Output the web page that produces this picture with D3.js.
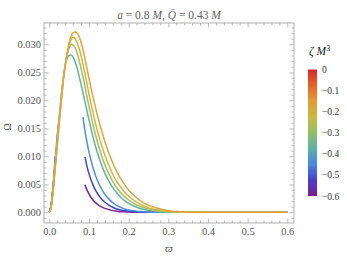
<!DOCTYPE html>
<html lang="en">
<head>
<meta charset="UTF-8">
<title>Omega vs varpi</title>
<script src="https://d3js.org/d3.v7.min.js"></script>
<style>
  body { margin: 0; background: #fff; }
  svg { display: block; font-family: "Liberation Serif", "DejaVu Serif", serif; }
</style>
</head>
<body>
<svg width="347" height="256"></svg>
<script>
// varpi grid shared by all curves (null = no real solution there)
const varpi = [0, .005, .01, .015, .02, .025, .03, .035, .04, .045, .05, .055, .06, .065, .07, .075, .08, .085, .09, .095,
  .1, .11, .12, .13, .14, .15, .16, .17, .18, .19, .2, .22, .24, .26, .28, .3, .33, .36, .4, .5, .6];

const omegaOrange = [0, .0010, .0040, .0078, .0118, .0158, .0196, .0231, .0261, .0285, .0303, .0315, .0321, .0322, .0320, .0314, .0304, .0290, .0274, .0257,
  .0239, .0207, .0177, .0150, .0127, .0106, .0088, .0073, .0060, .0049, .0040, .0026, .0016, .0010, .0006, .0003, .0001, .00005, 0, 0, 0];
const omegaYellow = [0, .0011, .0042, .0081, .0122, .0162, .0200, .0234, .0262, .0283, .0299, .0309, .0312, .0310, .0303, .0293, .0280, .0264, .0247, .0229,
  .0211, .0178, .0149, .0124, .0102, .0084, .0068, .0055, .0045, .0036, .0029, .0018, .0011, .0006, .0004, .0002, .0001, 0, 0, 0, 0];
const omegaGreen = [0, .0012, .0044, .0084, .0126, .0166, .0204, .0237, .0263, .0282, .0294, .0300, .0299, .0294, .0285, .0272, .0257, .0241, .0224, .0206,
  .0189, .0157, .0129, .0105, .0085, .0069, .0055, .0044, .0035, .0028, .0022, .0013, .0008, .0004, .0002, .0001, 0, 0, 0, 0, 0];
const omegaTeal = [0, .0013, .0046, .0087, .0130, .0171, .0208, .0239, .0262, .0275, .0280, .0281, .0277, .0269, .0258, .0244, .0229, .0213, .0197, .0181,
  .0165, .0135, .0109, .0088, .0070, .0056, .0044, .0035, .0027, .0021, .0016, .0009, .0005, .0003, .0001, .0001, 0, 0, 0, 0, 0];
const omegaBlue = [0, .0013, .0048, .0092, .0138, .0168, null, null, null, null, null, null, null, null, null, null, null, .0170, .0145, .0125,
  .0108, .0080, .0059, .0044, .0032, .0024, .0017, .0012, .0009, .0006, .0004, .0002, .0001, 0, 0, 0, 0, 0, 0, 0, 0];
const omegaIndigo = [0, .0014, .0050, .0100, null, null, null, null, null, null, null, null, null, null, null, null, null, null, .0099, .0082,
  .0069, .0049, .0035, .0025, .0018, .0013, .0009, .0006, .0004, .0003, .0002, .0001, 0, 0, 0, 0, 0, 0, 0, 0, 0];
const omegaPurple = [0, .0015, .0049, null, null, null, null, null, null, null, null, null, null, null, null, null, null, null, .0049, .0040,
  .0033, .0022, .0015, .0010, .0007, .0005, .0003, .0002, .0001, .0001, .00005, 0, 0, 0, 0, 0, 0, 0, 0, 0, 0];

const curveColors = ["#7b2796", "#4343d3", "#4f8fdf", "#62b39e", "#a2c05e", "#d1b541", "#e8a33a"];
const xTicks = [0, 0.1, 0.2, 0.3, 0.4, 0.5, 0.6];
const yTicks = [0, 0.005, 0.01, 0.015, 0.02, 0.025, 0.03];
const zetaTicks = [0, -0.1, -0.2, -0.3, -0.4, -0.5, -0.6];
const barStops = ["#7a1f8f", "#4b3fc9", "#4a86e0", "#5fb0a8", "#8ec165", "#c9b843", "#e49b35", "#e4632a", "#d9282a"];

const series = [omegaPurple, omegaIndigo, omegaBlue, omegaTeal, omegaGreen, omegaYellow, omegaOrange];

const svg = d3.select('svg');
const frame = { left: 44, right: 294, top: 23, bottom: 223 };
const x = d3.scaleLinear().domain([0, 0.6]).range([49.3, 287.3]);
const y = d3.scaleLinear().domain([0, 0.03]).range([212.3, 44.3]);
const fmt = d => d3.format('.1f')(d);
const grey = '#a8a8a8';
const serif = '"Liberation Serif", "DejaVu Serif", serif';

// frame ticks (inward), minor first
const xMinor = d3.range(0, 0.61, 0.02).filter(v => Math.abs(v * 10 - Math.round(v * 10)) > 1e-6);
const yMinor = d3.range(-0.001, 0.0335, 0.001).filter(v => Math.abs(v * 200 - Math.round(v * 200)) > 1e-6);

function styleAxis(g) {
  g.attr('font-family', serif);
  g.select('.domain').remove();
  g.selectAll('line').attr('stroke', grey).attr('stroke-width', 0.8);
  g.selectAll('text').attr('fill', '#555').attr('font-size', 10.5);
}

svg.append('g').attr('transform', `translate(0,${frame.bottom})`)
  .call(d3.axisBottom(x).tickValues(xMinor).tickSize(-2.5).tickFormat('')).call(styleAxis);
svg.append('g').attr('transform', `translate(0,${frame.top})`)
  .call(d3.axisTop(x).tickValues(xMinor).tickSize(-2.5).tickFormat('')).call(styleAxis);
svg.append('g').attr('transform', `translate(0,${frame.top})`)
  .call(d3.axisTop(x).tickValues(xTicks).tickSize(-4.5).tickFormat('')).call(styleAxis);
svg.append('g').attr('transform', `translate(0,${frame.bottom})`)
  .call(d3.axisBottom(x).tickValues(xTicks).tickSize(-4.5).tickPadding(5).tickFormat(fmt)).call(styleAxis);

svg.append('g').attr('transform', `translate(${frame.left},0)`)
  .call(d3.axisLeft(y).tickValues(yMinor).tickSize(-2.5).tickFormat('')).call(styleAxis);
svg.append('g').attr('transform', `translate(${frame.right},0)`)
  .call(d3.axisRight(y).tickValues(yMinor).tickSize(-2.5).tickFormat('')).call(styleAxis);
svg.append('g').attr('transform', `translate(${frame.right},0)`)
  .call(d3.axisRight(y).tickValues(yTicks).tickSize(-4.5).tickFormat('')).call(styleAxis);
svg.append('g').attr('transform', `translate(${frame.left},0)`)
  .call(d3.axisLeft(y).tickValues(yTicks).tickSize(-4.5).tickPadding(3).tickFormat(d3.format('.3f'))).call(styleAxis);

svg.append('rect')
  .attr('x', frame.left).attr('y', frame.top)
  .attr('width', frame.right - frame.left).attr('height', frame.bottom - frame.top)
  .attr('fill', 'none').attr('stroke', grey).attr('stroke-width', 0.9);

// curves
const line = d3.line()
  .defined(d => d[1] != null)
  .x(d => x(d[0]))
  .y(d => y(d[1]))
  .curve(d3.curveMonotoneX);

svg.append('g').selectAll('path')
  .data(series)
  .join('path')
  .attr('d', s => line(varpi.map((v, i) => [v, s[i]])))
  .attr('fill', 'none')
  .attr('stroke', (s, i) => curveColors[i])
  .attr('stroke-width', 1.5)
  .attr('stroke-linejoin', 'round');

// titles
const title = svg.append('text').attr('x', 169).attr('y', 18.5)
  .attr('text-anchor', 'middle').attr('font-size', 11.5).attr('fill', '#666');
title.append('tspan').attr('font-style', 'italic').text('a');
title.append('tspan').text(' = 0.8 ');
title.append('tspan').attr('font-style', 'italic').text('M');
title.append('tspan').text(', ');
title.append('tspan').attr('font-style', 'italic').text('Q\u0304');
title.append('tspan').text(' = 0.43 ');
title.append('tspan').attr('font-style', 'italic').text('M');

svg.append('text').attr('x', 169).attr('y', 252)
  .attr('text-anchor', 'middle').attr('font-size', 11).attr('font-style', 'italic').attr('fill', '#555')
  .text('ϖ');
svg.append('text').attr('transform', 'translate(11,127) rotate(-90)')
  .attr('text-anchor', 'middle').attr('font-size', 10).attr('fill', '#555')
  .text('Ω');

// colour bar legend
const zb = d3.scaleLinear().domain([-0.6, 0]).range([196, 69.5]);
const grad = svg.append('defs').append('linearGradient')
  .attr('id', 'zbar').attr('x1', 0).attr('y1', 1).attr('x2', 0).attr('y2', 0);
grad.selectAll('stop').data(barStops).join('stop')
  .attr('offset', (d, i) => i / (barStops.length - 1))
  .attr('stop-color', d => d);
svg.append('rect')
  .attr('x', 308).attr('y', zb(0)).attr('width', 9).attr('height', zb(-0.6) - zb(0))
  .attr('fill', 'url(#zbar)');
svg.append('g').attr('transform', 'translate(317,0)')
  .call(d3.axisRight(zb).tickValues(zetaTicks).tickSize(0).tickPadding(5)
    .tickFormat(d => d === 0 ? '0' : d3.format('.1f')(d).replace('-', '\u2212')))
  .call(g => {
    g.attr('font-family', serif);
    g.select('.domain').remove();
    g.selectAll('text').attr('fill', '#333').attr('font-size', 9.5);
  });

const zt = svg.append('text').attr('x', 309).attr('y', 55).attr('font-size', 11.5).attr('fill', '#222');
zt.append('tspan').attr('font-style', 'italic').text('ζ M');
zt.append('tspan').attr('font-size', 8).attr('dy', -4).text('3');
</script>
</body>
</html>
